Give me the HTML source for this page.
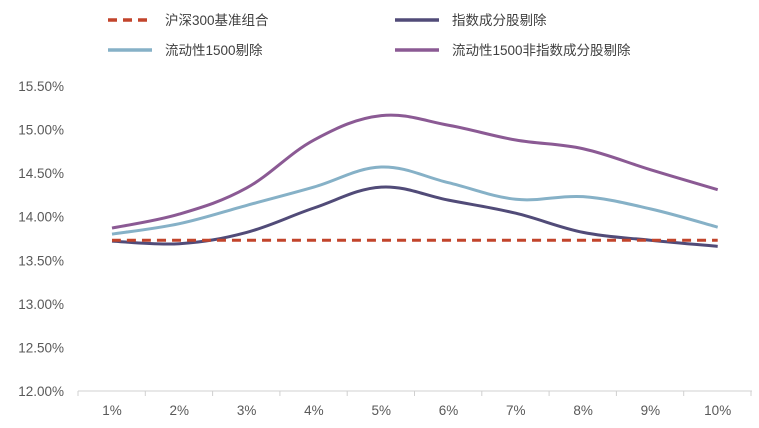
<!DOCTYPE html>
<html><head><meta charset="utf-8"><style>
body{margin:0;background:#fff;}
svg text{font-family:"Liberation Sans","Noto Sans CJK SC",sans-serif;}
</style></head><body>
<svg id="chart" width="759" height="423" xmlns="http://www.w3.org/2000/svg">
<g id="legend"></g>
<g id="yaxis"></g>
<g id="xaxis"></g>
<g id="series"></g>
</svg>
<script>
const categories=["1%","2%","3%","4%","5%","6%","7%","8%","9%","10%"];
const yTicks=[12,12.5,13,13.5,14,14.5,15,15.5];
const seriesNames=["沪深300基准组合","指数成分股剔除","流动性1500剔除","流动性1500非指数成分股剔除"];
const hs300=[13.73,13.73,13.73,13.73,13.73,13.73,13.73,13.73,13.73,13.73];
const indexRemoved=[13.72,13.69,13.82,14.10,14.34,14.19,14.04,13.82,13.73,13.66];
const liq1500=[13.80,13.92,14.13,14.34,14.57,14.39,14.20,14.23,14.09,13.88];
const liqNonIndex=[13.87,14.03,14.33,14.88,15.16,15.05,14.88,14.78,14.54,14.31];

const NS="http://www.w3.org/2000/svg";
const x0=112,dx=67.3,yBase=391,yMin=12,yMax=15.5,yTop=86;
const xs=i=>x0+i*dx;
const ys=v=>yBase-(v-yMin)/(yMax-yMin)*(yBase-yTop);
function mk(t,a,p){const e=document.createElementNS(NS,t);for(const k in a)e.setAttribute(k,a[k]);p.appendChild(e);return e;}
const ya=document.getElementById('yaxis');
yTicks.forEach(v=>{const t=mk('text',{x:64,y:ys(v)+5,'text-anchor':'end','font-size':13.5,fill:'#595959'},ya);t.textContent=v.toFixed(2)+'%';

});
const xa=document.getElementById('xaxis');
const al=mk('line',{x1:78,x2:752,y1:yBase,y2:yBase,stroke:'#d0d0d0','stroke-width':1},xa);


for(let i=0;i<=categories.length;i++){const tx=78+i*dx;const tk=mk('line',{x1:tx,x2:tx,y1:yBase,y2:yBase+5,stroke:'#d0d0d0'},xa);

}
categories.forEach((c,i)=>{const t=mk('text',{x:xs(i),y:415,'text-anchor':'middle','font-size':13.5,fill:'#595959'},xa);t.textContent=c;

});
function smooth(vals){const p=vals.map((v,i)=>[xs(i),ys(v)]);let d=`M${p[0][0]},${p[0][1]}`;
for(let i=0;i<p.length-1;i++){const a=p[Math.max(0,i-1)],b=p[i],c=p[i+1],e=p[Math.min(p.length-1,i+2)];const t=0.18;
d+=` C${b[0]+(c[0]-a[0])*t},${b[1]+(c[1]-a[1])*t} ${c[0]-(e[0]-b[0])*t},${c[1]-(e[1]-b[1])*t} ${c[0]},${c[1]}`;}return d;}
const sg=document.getElementById('series');
const defs=[[liqNonIndex,'#8B5A94',''],[liq1500,'#86B1C7',''],[indexRemoved,'#514B78',''],[hs300,'#C2442B','9,6']];
const names=['series-liquidity1500-non-index','series-liquidity1500','series-index-removed','series-hs300'];
defs.forEach((s,k)=>{const p=mk('path',{d:smooth(s[0]),fill:'none',stroke:s[1],'stroke-width':3,'stroke-dasharray':s[2]},sg);

});
const lg=document.getElementById('legend');
const lgd=[[108,20,'#C2442B','9,6',0],[395,20,'#514B78','',1],[108,50,'#86B1C7','',2],[395,50,'#8B5A94','',3]];
lgd.forEach(l=>{const ln=mk('line',{x1:l[0],x2:l[0]+44,y1:l[1],y2:l[1],stroke:l[2],'stroke-width':3.5,'stroke-dasharray':l[3]},lg);


const t=mk('text',{x:l[0]+57,y:l[1]+5,'font-size':13.5,fill:'#404040'},lg);t.textContent=seriesNames[l[4]];

});
</script>
</body></html>
